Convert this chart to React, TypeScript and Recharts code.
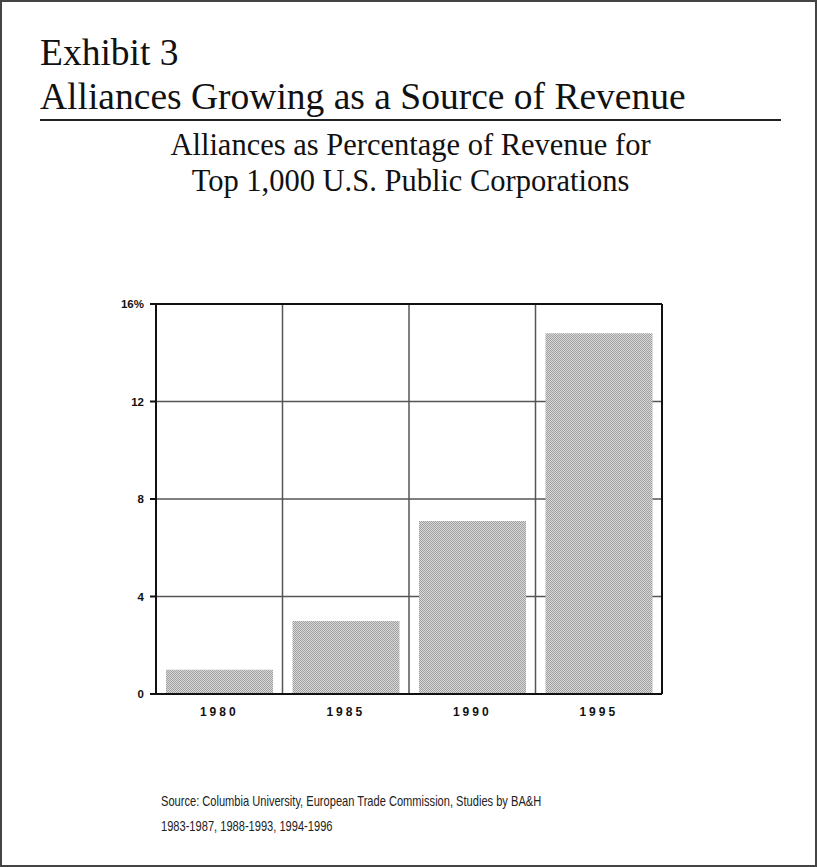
import { BarChart, Bar, XAxis, YAxis, CartesianGrid } from 'recharts';

const years = ['1980', '1985', '1990', '1995'];
const shares = [1.0, 3.0, 7.1, 14.8];
const yTicks = [0, 4, 8, 12, 16];

const data = years.map((year, i) => ({ year, share: shares[i] }));

const serif = '"Liberation Serif", "Times New Roman", serif';
const sans = '"Liberation Sans", Arial, sans-serif';

// category borders instead of centres for the vertical grid
const boundaryLines = ({ offset }: any) => {
  const n = years.length;
  const out: number[] = [];
  for (let i = 1; i < n; i++) out.push(offset.left + (offset.width * i) / n);
  return out;
};

const YTick = ({ x, y, payload }: any) => (
  <text x={x - 4} y={y} dy={4} textAnchor="end" fontFamily={sans} fontWeight={700} fontSize={11.5} fill="#111">
    {payload.value === 16 ? '16%' : payload.value}
  </text>
);

const XTick = ({ x, y, payload }: any) => (
  <text x={x} y={y} dy={14} textAnchor="middle" fontFamily={sans} fontWeight={700} fontSize={12}
    letterSpacing={3} fill="#111">
    {payload.value}
  </text>
);

export default function App() {
  return (
    <div style={{
      position: 'absolute', left: 0, top: 0, width: 817, height: 867,
      boxSizing: 'border-box', border: '2px solid #444', background: '#fff', overflow: 'hidden',
    }}>
      <svg width={0} height={0} style={{ position: 'absolute' }}>
        <defs>
          <pattern id="stipple" width={2} height={2} patternUnits="userSpaceOnUse">
            <rect width={2} height={2} fill="#d8d8d8" />
            <rect width={1} height={1} fill="#a0a0a0" />
            <rect x={1} y={1} width={1} height={1} fill="#a0a0a0" />
          </pattern>
        </defs>
      </svg>
      <div style={{ position: 'absolute', left: 38, top: 29, fontFamily: serif, fontSize: 37.5, lineHeight: '44px', color: '#111' }}>
        <div>Exhibit 3</div>
        <div>Alliances Growing as a Source of Revenue</div>
      </div>
      <div style={{ position: 'absolute', left: 38, top: 117, width: 741, height: 1.5, background: '#222' }} />
      <div style={{
        position: 'absolute', left: 0, width: 817, top: 125, textAlign: 'center',
        fontFamily: serif, fontSize: 30.5, lineHeight: '36px', color: '#111',
      }}>
        <div>Alliances as Percentage of Revenue for</div>
        <div>Top 1,000 U.S. Public Corporations</div>
      </div>
      <div style={{ position: 'absolute', left: -2, top: -2 }}>
        <BarChart
          width={817}
          height={867}
          data={data}
          margin={{ top: 303, right: 154, bottom: 143, left: 96 }}
          barCategoryGap={10}
        >
          <CartesianGrid
            stroke="#555"
            strokeWidth={1.5}
            verticalCoordinatesGenerator={boundaryLines}
          />
          <XAxis
            dataKey="year"
            height={30}
            axisLine={{ stroke: '#111', strokeWidth: 2 }}
            tickLine={false}
            tick={<XTick />}
          />
          <XAxis xAxisId="top" orientation="top" dataKey="year" height={1} tick={false} tickLine={false}
            axisLine={{ stroke: '#111', strokeWidth: 2 }} />
          <YAxis
            domain={[0, 16]}
            ticks={yTicks}
            width={60}
            interval={0}
            axisLine={{ stroke: '#111', strokeWidth: 2 }}
            tickLine={{ stroke: '#111', strokeWidth: 2 }}
            tickSize={6}
            tick={<YTick />}
          />
          <YAxis yAxisId="right" orientation="right" width={1} domain={[0, 16]} tick={false} tickLine={false}
            axisLine={{ stroke: '#111', strokeWidth: 2 }} />
          <Bar dataKey="share" fill="url(#stipple)" isAnimationActive={false} />
          <Bar dataKey="share" xAxisId="top" yAxisId="right" fill="none" legendType="none" isAnimationActive={false} />
        </BarChart>
      </div>
      <div style={{
        position: 'absolute', left: 159, top: 787, fontFamily: sans, fontSize: 14.5,
        lineHeight: '25px', color: '#222', whiteSpace: 'nowrap',
        transform: 'scaleX(0.765)', transformOrigin: 'left top',
      }}>
        <div>Source: Columbia University, European Trade Commission, Studies by BA&amp;H</div>
        <div>1983-1987, 1988-1993, 1994-1996</div>
      </div>
    </div>
  );
}
